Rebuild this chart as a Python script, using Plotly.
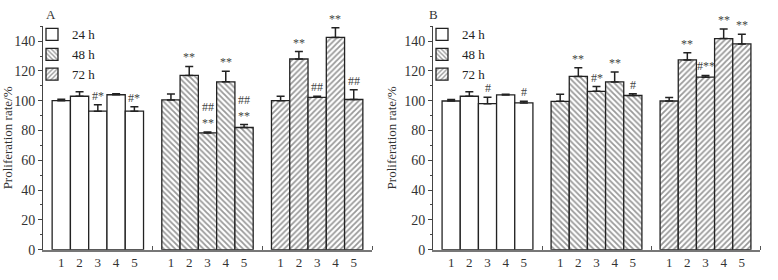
import plotly.graph_objects as go

groups = ["24 h", "48 h", "72 h"]
bar_labels = ["1", "2", "3", "4", "5"]

A_24 = [100.0, 103.0, 93.0, 104.0, 93.0]
A_24_err = [1.0, 3.0, 4.3, 0.7, 3.0]
A_48 = [100.5, 117.0, 78.4, 112.7, 82.0]
A_48_err = [4.0, 6.0, 0.6, 7.0, 2.0]
A_72 = [100.0, 128.0, 102.3, 142.5, 100.8]
A_72_err = [3.0, 5.0, 0.7, 6.5, 6.5]

B_24 = [99.8, 103.0, 98.0, 103.9, 98.5]
B_24_err = [1.0, 3.0, 4.4, 0.4, 1.1]
B_48 = [99.6, 116.3, 106.3, 112.6, 103.5]
B_48_err = [4.7, 5.8, 3.2, 6.7, 1.1]
B_72 = [99.8, 127.4, 115.8, 141.7, 138.1]
B_72_err = [2.4, 4.8, 1.2, 6.5, 6.5]

A_24_sig = ["", "", "#*", "", "#*"]
A_48_sig = ["", "**", "##<br>**", "**", "##<br>**"]
A_72_sig = ["", "**", "##", "**", "##"]
B_24_sig = ["", "", "#", "", "#"]
B_48_sig = ["", "**", "#*", "**", "#"]
B_72_sig = ["", "**", "#**", "**", "**"]

panels = {
    "A": [(A_24, A_24_err, A_24_sig), (A_48, A_48_err, A_48_sig), (A_72, A_72_err, A_72_sig)],
    "B": [(B_24, B_24_err, B_24_sig), (B_48, B_48_err, B_48_sig), (B_72, B_72_err, B_72_sig)],
}

FONT = "Liberation Serif"
W, H = 778, 280
patterns = ["", "\\", "/"]

fig = go.Figure()
annotations = []
for p_idx, (pname, series) in enumerate(panels.items()):
    xa = "x" if p_idx == 0 else "x2"
    ya = "y" if p_idx == 0 else "y2"
    leg = "legend" if p_idx == 0 else "legend2"
    for g, (vals, errs, sigs) in enumerate(series):
        xs = [g * 6 + 1 + i for i in range(len(vals))]
        fig.add_trace(go.Bar(
            x=xs, y=vals, width=1.0, name=groups[g],
            xaxis=xa, yaxis=ya, legend=leg,
            marker=dict(color="white", line=dict(color="#222", width=1.3),
                        pattern=dict(shape=patterns[g], fgcolor="#333", bgcolor="white",
                                     size=4, solidity=0.45)),
            error_y=dict(type="data", symmetric=False, array=errs,
                         arrayminus=[0] * len(errs), color="#222", thickness=1.5, width=4),
        ))
        for x, v, e, s in zip(xs, vals, errs, sigs):
            if s:
                annotations.append(dict(x=x, y=v + e, xref=xa, yref=ya, text=s,
                                        showarrow=False, yanchor="bottom", yshift=0,
                                        font=dict(family=FONT, size=12, color="#444")))

centers = [g * 6 + 1 + i for g in range(3) for i in range(5)]
ticktext = bar_labels * 3

ydom = [(H - 257) / H, (H - 27) / H]
xdoms = [[43 / W, 372 / W], [433 / W, 760 / W]]

for i, suffix in enumerate(["", "2"]):
    fig.layout["xaxis" + suffix] = dict(
        domain=xdoms[i], range=[0, 18], tickvals=centers, ticktext=ticktext,
        ticks="", showgrid=False, zeroline=False, showline=True, linecolor="#777",
        linewidth=2, anchor="y" + suffix,
        tickfont=dict(family=FONT, size=13, color="#333"),
        minor=dict(tickvals=[6, 12, 18], ticks="inside", ticklen=4, tickcolor="#555", tickwidth=1),
    )
    fig.layout["yaxis" + suffix] = dict(
        domain=ydom, range=[0, 150], dtick=20, tick0=0, ticks="outside", ticklen=4,
        tickcolor="#444", showgrid=False, zeroline=False, showline=True,
        linecolor="#444", linewidth=1, anchor="x" + suffix,
        tickfont=dict(family=FONT, size=14, color="#333"),
        minor=dict(dtick=10, ticks="outside", ticklen=2, tickcolor="#444"),
        title=dict(text="Proliferation rate/%", font=dict(family=FONT, size=13, color="#333"),
                   standoff=4),
    )

annotations.append(dict(x=43.5 / W, y=(H - 15) / H, xref="paper", yref="paper", text="A",
                        showarrow=False, yanchor="middle",
                        font=dict(family=FONT, size=13, color="#333")))
annotations.append(dict(x=433.5 / W, y=(H - 15) / H, xref="paper", yref="paper", text="B",
                        showarrow=False, yanchor="middle",
                        font=dict(family=FONT, size=13, color="#333")))

legend_style = dict(font=dict(family=FONT, size=13, color="#222"), bgcolor="rgba(0,0,0,0)",
                    yanchor="top", xanchor="left", tracegroupgap=0, itemwidth=30)
fig.update_layout(
    width=W, height=H, margin=dict(l=0, r=0, t=0, b=0),
    plot_bgcolor="white", paper_bgcolor="white", barmode="overlay",
    legend=dict(x=32 / W, y=(H - 20) / H, **legend_style),
    legend2=dict(x=422 / W, y=(H - 20) / H, **legend_style),
    annotations=annotations, showlegend=True,
)

fig.write_html("out.html", config={"displayModeBar": False},
               post_script="document.body.style.margin='0px';")
